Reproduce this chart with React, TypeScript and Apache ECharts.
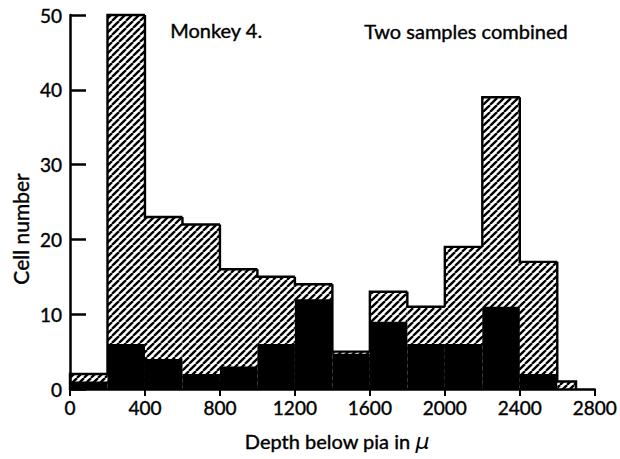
import React, { useEffect, useRef } from "react";
import * as echarts from "echarts";

// Histogram bins (depth below pia, µ)
const binStart = [0, 200, 400, 600, 800, 1000, 1200, 1400, 1600, 1800, 2000, 2200, 2400, 2600];
const binEnd = [200, 400, 600, 800, 1000, 1200, 1400, 1600, 1800, 2000, 2200, 2400, 2600, 2700];
// Total cell counts (hatched + black)
const totalCounts = [2, 50, 23, 22, 16, 15, 14, 5, 13, 11, 19, 39, 17, 1];
// Black portion
const blackCounts = [1, 6, 4, 2, 3, 6, 12, 4.7, 9, 6, 6, 11, 2, 0];

const xTicks = [0, 400, 800, 1200, 1600, 2000, 2400, 2800];
const yTicks = [0, 10, 20, 30, 40, 50];

const FONT = "Lato";
const TB = { textBorderColor: "#000", textBorderWidth: 0.4 };

export default function App() {
  const ref = useRef<HTMLDivElement>(null);
  useEffect(() => {
    if (!ref.current) return;
    document.body.style.margin = "0";
    const chart = echarts.init(ref.current, null, { renderer: "svg" });

    const size = 7;
    const c = document.createElement("canvas");
    c.width = size;
    c.height = size;
    const ctx = c.getContext("2d")!;
    ctx.fillStyle = "#fff";
    ctx.fillRect(0, 0, size, size);
    ctx.strokeStyle = "#000";
    ctx.lineWidth = 2.3;
    for (const o of [-size, 0, size]) {
      ctx.beginPath();
      ctx.moveTo(o, size);
      ctx.lineTo(o + size, 0);
      ctx.stroke();
    }
    const pattern: any = { image: c, repeat: "repeat", imageWidth: size, imageHeight: size };

    const hatchData = binStart.map((s, i) => [s, binEnd[i], totalCounts[i]]);
    const blackData = binStart.map((s, i) => [s, binEnd[i], blackCounts[i]]);
    const outlineData = binStart.map((s, i) => [
      s,
      binEnd[i],
      totalCounts[i],
      i === 0 ? 0 : totalCounts[i - 1],
      i === binStart.length - 1 ? 1 : 0,
    ]);

    const rectItem = (fill: any) => (params: any, api: any) => {
      const s = api.value(0), e = api.value(1), v = api.value(2);
      const p0 = api.coord([s, 0]);
      const p1 = api.coord([e, v]);
      return {
        type: "rect",
        shape: { x: p0[0], y: p1[1], width: p1[0] - p0[0], height: p0[1] - p1[1] },
        style: { fill, stroke: null },
      };
    };

    chart.setOption({
      animation: false,
      grid: { left: 70, right: 20, top: 15, bottom: 70 },
      xAxis: {
        type: "value",
        min: xTicks[0],
        max: xTicks[xTicks.length - 1],
        interval: 400,
        z: 10,
        axisLine: { show: true, lineStyle: { color: "#000", width: 2.5 } },
        axisTick: { show: true, inside: false, length: 7, lineStyle: { color: "#000", width: 2 } },
        axisLabel: { color: "#000", fontFamily: FONT, fontSize: 19, margin: 9, ...TB, formatter: (v: number) => String(v) },
        splitLine: { show: false },
      },
      yAxis: {
        type: "value",
        min: yTicks[0],
        max: yTicks[yTicks.length - 1],
        interval: 10,
        z: 10,
        axisLine: { show: true, lineStyle: { color: "#000", width: 2.5 } },
        axisTick: { show: true, inside: true, length: 16, lineStyle: { color: "#000", width: 2.5 } },
        axisLabel: { color: "#000", fontFamily: FONT, fontSize: 19, margin: 8, ...TB, formatter: (v: number) => String(v) },
        splitLine: { show: false },
      },
      series: [
        {
          type: "custom",
          z: 2,
          renderItem: rectItem(pattern),
          data: hatchData,
          encode: { x: [0, 1], y: 2 },
        },
        {
          type: "custom",
          z: 3,
          renderItem: rectItem("#000"),
          data: blackData,
          encode: { x: [0, 1], y: 2 },
        },
        {
          type: "custom",
          z: 4,
          renderItem: (params: any, api: any) => {
            const s = api.value(0), e = api.value(1), v = api.value(2), prev = api.value(3), last = api.value(4);
            const pts = [api.coord([s, prev]), api.coord([s, v]), api.coord([e, v])];
            if (last) pts.push(api.coord([e, 0]));
            return {
              type: "polyline",
              shape: { points: pts },
              style: { fill: null, stroke: "#000", lineWidth: 2.4 },
            };
          },
          data: outlineData,
          encode: { x: [0, 1], y: 2 },
        },
      ],
      graphic: [
        {
          type: "text",
          left: 170,
          top: 20,
          style: { text: "Monkey 4.", fontFamily: FONT, fontSize: 20, fill: "#000", stroke: "#000", lineWidth: 0.4 },
        },
        {
          type: "text",
          left: 364,
          top: 21,
          style: { text: "Two samples combined", fontFamily: FONT, fontSize: 20, fill: "#000", stroke: "#000", lineWidth: 0.4 },
        },
        {
          type: "text",
          x: 20,
          y: 229,
          rotation: Math.PI / 2,
          style: {
            text: "Cell number",
            fontFamily: FONT,
            fontSize: 21,
            fill: "#000",
            stroke: "#000",
            lineWidth: 0.4,
            align: "center",
            verticalAlign: "middle",
          },
        },
        {
          type: "text",
          x: 337,
          y: 441,
          style: {
            text: "{a|Depth below pia in }{b|μ}",
            align: "center",
            verticalAlign: "middle",
            rich: {
              a: { fontFamily: FONT, fontSize: 20, fill: "#000", stroke: "#000", lineWidth: 0.4 },
              b: { fontFamily: "DejaVu Sans", fontStyle: "italic", fontSize: 22, fill: "#000" },
            },
          },
        },
      ],
    });
    return () => chart.dispose();
  }, []);
  return <div ref={ref} style={{ width: 620, height: 459 }} />;
}
